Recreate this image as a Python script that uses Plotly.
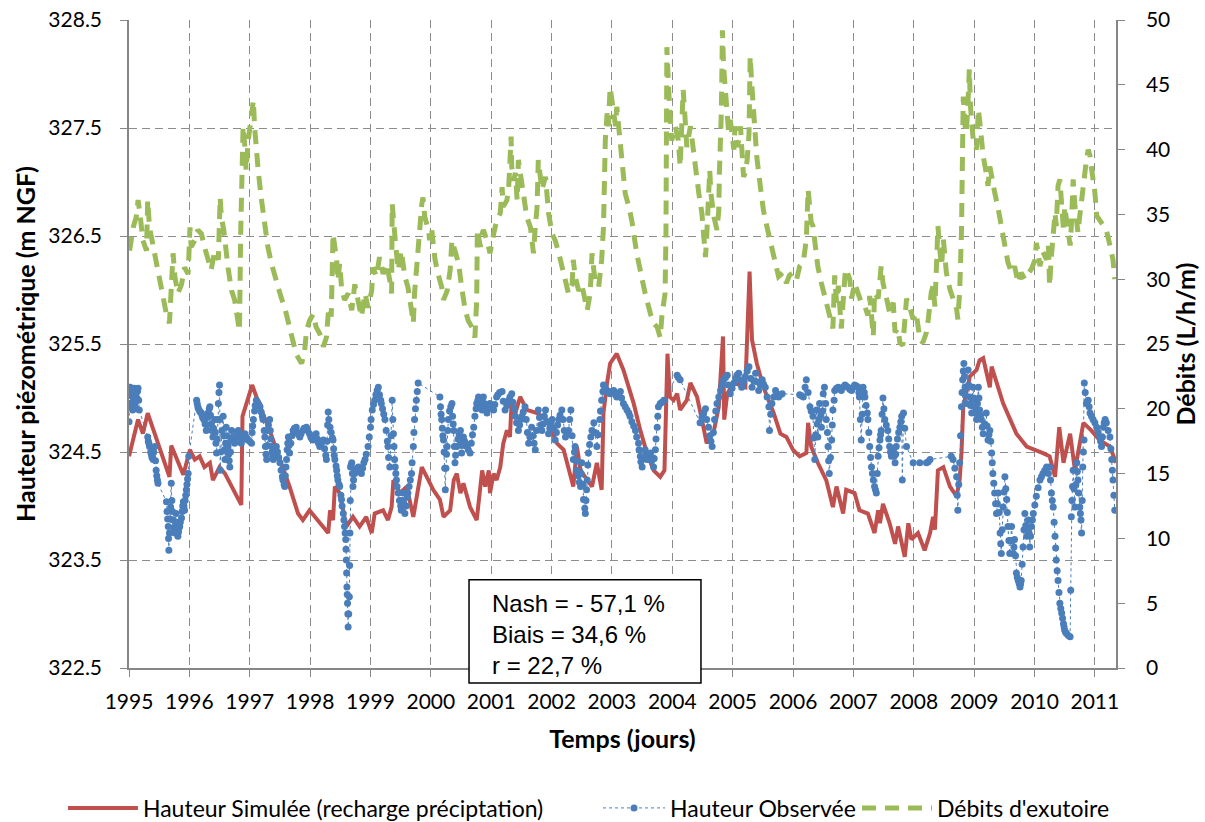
import plotly.graph_objects as go

# Hauteur simulée (m NGF), axe de gauche
sim_years = [
    1995.00, 1995.07, 1995.15, 1995.23, 1995.31, 1995.67, 1995.70, 1995.90, 1996.01, 1996.09,
    1996.17, 1996.25, 1996.34, 1996.39, 1996.50, 1996.59, 1996.86, 1996.88, 1996.94, 1997.04,
    1997.17, 1997.33, 1997.50, 1997.66, 1997.80, 1997.88, 1997.99, 1998.08, 1998.22, 1998.30,
    1998.33, 1998.38, 1998.41, 1998.49, 1998.60, 1998.71, 1998.82, 1998.93, 1999.02, 1999.07,
    1999.21, 1999.29, 1999.35, 1999.38, 1999.49, 1999.60, 1999.71, 1999.85, 1999.96, 2000.04,
    2000.15, 2000.21, 2000.32, 2000.38, 2000.43, 2000.49, 2000.54, 2000.65, 2000.76, 2000.85,
    2000.90, 2000.96, 2000.98, 2001.04, 2001.09, 2001.15, 2001.20, 2001.26, 2001.31, 2001.34,
    2001.40, 2001.48, 2001.59, 2001.76, 2001.92, 2002.09, 2002.20, 2002.36, 2002.42, 2002.48,
    2002.67, 2002.75, 2002.83, 2002.86, 2002.92, 2002.97, 2003.08, 2003.19, 2003.36, 2003.47,
    2003.58, 2003.69, 2003.80, 2003.87, 2003.92, 2003.96, 2004.02, 2004.08, 2004.13, 2004.24,
    2004.30, 2004.41, 2004.49, 2004.57, 2004.69, 2004.77, 2004.84, 2004.86, 2004.91, 2005.02,
    2005.21, 2005.28, 2005.32, 2005.40, 2005.51, 2005.68, 2005.79, 2005.89, 2006.00, 2006.11,
    2006.22, 2006.25, 2006.30, 2006.41, 2006.55, 2006.66, 2006.72, 2006.83, 2006.88, 2007.02,
    2007.10, 2007.24, 2007.35, 2007.41, 2007.44, 2007.49, 2007.60, 2007.69, 2007.74, 2007.85,
    2007.91, 2007.96, 2008.07, 2008.18, 2008.27, 2008.32, 2008.35, 2008.40, 2008.49, 2008.60,
    2008.71, 2008.76, 2008.79, 2008.82, 2008.93, 2009.04, 2009.09, 2009.15, 2009.26, 2009.29,
    2009.48, 2009.59, 2009.70, 2009.87, 2010.03, 2010.14, 2010.25, 2010.34, 2010.41, 2010.48,
    2010.59, 2010.67, 2010.81, 2010.94, 2011.08, 2011.25, 2011.35,
]
sim_level = [
    324.46, 324.61, 324.80, 324.67, 324.86, 324.27, 324.56, 324.29, 324.52, 324.43,
    324.46, 324.36, 324.40, 324.24, 324.36, 324.30, 324.01, 324.83, 324.95, 325.12,
    324.92, 324.70, 324.43, 324.18, 323.93, 323.87, 323.96, 323.90, 323.81, 323.75,
    323.96, 323.87, 324.18, 324.12, 323.81, 323.90, 323.81, 323.90, 323.75, 323.93,
    323.96, 323.87, 323.99, 324.24, 324.12, 324.18, 323.90, 324.36, 324.24, 324.15,
    324.06, 323.90, 323.96, 324.24, 324.30, 324.12, 324.21, 323.99, 323.87, 324.33,
    324.18, 324.33, 324.12, 324.30, 324.24, 324.36, 324.58, 324.70, 324.64, 324.98,
    324.86, 325.01, 324.89, 324.86, 324.80, 324.58, 324.52, 324.18, 324.55, 324.33,
    324.18, 324.40, 324.15, 324.86, 325.14, 325.32, 325.41, 325.26, 324.95, 324.70,
    324.49, 324.33, 324.27, 324.33, 325.41, 325.01, 324.98, 325.04, 324.89, 324.98,
    325.14, 325.01, 324.80, 324.58, 324.70, 324.92, 325.57, 324.80, 325.04, 325.14,
    325.10, 326.17, 325.54, 325.32, 325.10, 324.86, 324.67, 324.64, 324.52, 324.46,
    324.49, 324.77, 324.55, 324.40, 324.24, 323.99, 324.18, 323.93, 324.15, 324.12,
    323.96, 323.93, 323.75, 323.96, 323.84, 324.02, 323.84, 323.65, 323.81, 323.53,
    323.84, 323.69, 323.75, 323.59, 323.75, 323.90, 323.78, 324.33, 324.36, 324.18,
    324.09, 324.24, 324.49, 324.92, 325.20, 325.26, 325.35, 325.37, 325.10, 325.29,
    324.95, 324.80, 324.67, 324.55, 324.52, 324.49, 324.46, 324.27, 324.73, 324.40,
    324.67, 324.33, 324.77, 324.70, 324.61, 324.55, 324.40,
]

# Hauteur observée (m NGF), axe de gauche -- une ligne de dates = une ligne de niveaux
obs_years = [
    1995.00, 1995.005, 1995.01, 1995.02, 1995.03, 1995.04, 1995.05, 1995.06, 1995.07, 1995.08,
    1995.09, 1995.10, 1995.11, 1995.12, 1995.13, 1995.14, 1995.15, 1995.16, 1995.17,
    1995.31, 1995.32, 1995.33, 1995.34, 1995.36, 1995.37, 1995.38, 1995.40, 1995.41, 1995.43,
    1995.44, 1995.45, 1995.46, 1995.47, 1995.48,
    1995.62, 1995.63, 1995.64, 1995.65, 1995.655, 1995.66, 1995.67, 1995.68, 1995.69, 1995.70,
    1995.71, 1995.72, 1995.73, 1995.74, 1995.75, 1995.76, 1995.77, 1995.78, 1995.79, 1995.80,
    1995.81, 1995.82, 1995.83, 1995.84, 1995.85, 1995.87, 1995.88, 1995.89, 1995.90, 1995.91,
    1995.92, 1995.93, 1995.94, 1995.95, 1995.96, 1995.97, 1995.98, 1995.99,
    1996.12, 1996.13, 1996.14, 1996.15, 1996.17, 1996.18, 1996.20, 1996.21, 1996.22, 1996.24,
    1996.25, 1996.26, 1996.28, 1996.29, 1996.30, 1996.31, 1996.33, 1996.34, 1996.35, 1996.36,
    1996.37, 1996.39, 1996.40, 1996.42, 1996.43, 1996.44, 1996.45, 1996.46, 1996.47, 1996.48,
    1996.49, 1996.50, 1996.505, 1996.51, 1996.52, 1996.54, 1996.56, 1996.57, 1996.58, 1996.59,
    1996.60, 1996.61, 1996.62, 1996.63, 1996.64, 1996.65, 1996.66, 1996.67, 1996.68, 1996.69,
    1996.70, 1996.72, 1996.74, 1996.75, 1996.77, 1996.79, 1996.81, 1996.83, 1996.85, 1996.86,
    1996.88, 1996.90, 1996.92, 1996.94, 1996.96, 1996.97, 1997.00, 1997.03, 1997.04, 1997.05,
    1997.06, 1997.08, 1997.09, 1997.11, 1997.13, 1997.15, 1997.17, 1997.19, 1997.21, 1997.22,
    1997.24, 1997.25, 1997.26, 1997.27, 1997.28, 1997.29, 1997.30, 1997.31, 1997.33, 1997.34,
    1997.35, 1997.36, 1997.37, 1997.38, 1997.39, 1997.41, 1997.43, 1997.44, 1997.46, 1997.48,
    1997.50, 1997.52, 1997.54, 1997.55, 1997.57, 1997.58, 1997.59, 1997.60, 1997.61, 1997.62,
    1997.63, 1997.64, 1997.65, 1997.66, 1997.68, 1997.70, 1997.72, 1997.74, 1997.77, 1997.79,
    1997.81, 1997.83, 1997.85, 1997.88, 1997.90, 1997.94, 1997.96, 1997.99, 1998.01, 1998.03,
    1998.05, 1998.07, 1998.10, 1998.12, 1998.14, 1998.16, 1998.18, 1998.20, 1998.22, 1998.24,
    1998.26, 1998.27, 1998.28, 1998.29, 1998.30, 1998.31, 1998.33, 1998.35, 1998.37, 1998.38,
    1998.39, 1998.40, 1998.41, 1998.43, 1998.44, 1998.45, 1998.46, 1998.48, 1998.49, 1998.51,
    1998.52, 1998.53, 1998.55, 1998.56, 1998.57, 1998.58, 1998.59, 1998.595, 1998.60, 1998.605,
    1998.61, 1998.615, 1998.62, 1998.625, 1998.63, 1998.64, 1998.65, 1998.655, 1998.66, 1998.665,
    1998.67, 1998.68, 1998.69, 1998.70, 1998.71, 1998.72, 1998.74, 1998.76, 1998.78, 1998.80,
    1998.82, 1998.85, 1998.87, 1998.89, 1998.91, 1998.93, 1998.96, 1998.98, 1999.00, 1999.01,
    1999.03, 1999.05, 1999.07, 1999.09, 1999.11, 1999.13, 1999.15, 1999.17, 1999.18, 1999.20,
    1999.22, 1999.24, 1999.26, 1999.28, 1999.29, 1999.30, 1999.32, 1999.34, 1999.36, 1999.37,
    1999.38, 1999.39, 1999.40, 1999.41, 1999.42, 1999.43, 1999.44, 1999.46, 1999.48, 1999.50,
    1999.51, 1999.52, 1999.54, 1999.55, 1999.57, 1999.59, 1999.61, 1999.62, 1999.64, 1999.66,
    1999.68, 1999.69, 1999.71, 1999.72, 1999.73, 1999.745, 1999.76, 1999.775, 1999.79,
    2000.15, 2000.16, 2000.17, 2000.18, 2000.19, 2000.20, 2000.21, 2000.22, 2000.23, 2000.24,
    2000.25, 2000.26, 2000.27, 2000.28, 2000.29, 2000.31, 2000.33, 2000.35, 2000.36, 2000.37,
    2000.38, 2000.39, 2000.40, 2000.41, 2000.43, 2000.45, 2000.47, 2000.49, 2000.50, 2000.51,
    2000.52, 2000.54, 2000.56, 2000.58, 2000.60, 2000.62, 2000.65, 2000.67, 2000.69, 2000.71,
    2000.73, 2000.75, 2000.76, 2000.78, 2000.79, 2000.81, 2000.83, 2000.85, 2000.86, 2000.87,
    2000.89, 2000.91, 2000.93, 2000.95, 2000.98, 2001.00, 2001.02, 2001.04, 2001.06, 2001.09,
    2001.11, 2001.14, 2001.18, 2001.20, 2001.23, 2001.26, 2001.29, 2001.31, 2001.34, 2001.36,
    2001.38, 2001.40, 2001.42, 2001.45, 2001.47, 2001.49, 2001.51, 2001.53, 2001.56, 2001.58,
    2001.60, 2001.62, 2001.64, 2001.67, 2001.69, 2001.71, 2001.73, 2001.75, 2001.78, 2001.80,
    2001.82, 2001.84, 2001.86, 2001.88, 2001.90, 2001.92, 2001.95, 2001.97, 2001.99, 2002.01,
    2002.03, 2002.06, 2002.08, 2002.10, 2002.12, 2002.14, 2002.17, 2002.19, 2002.21, 2002.23,
    2002.26, 2002.28, 2002.30, 2002.32, 2002.34, 2002.36, 2002.38, 2002.39, 2002.41, 2002.42,
    2002.44, 2002.46, 2002.48, 2002.49, 2002.50, 2002.52, 2002.53, 2002.55, 2002.56, 2002.57,
    2002.58, 2002.59, 2002.60, 2002.61, 2002.63, 2002.65, 2002.67, 2002.70, 2002.72, 2002.75,
    2002.77, 2002.80, 2002.81, 2002.83, 2002.85, 2002.86, 2002.89, 2002.92, 2002.95, 2002.97,
    2003.00, 2003.03, 2003.06, 2003.08, 2003.11, 2003.14, 2003.16, 2003.19, 2003.22, 2003.25,
    2003.28, 2003.30, 2003.33, 2003.36, 2003.39, 2003.41, 2003.44, 2003.45, 2003.47, 2003.48,
    2003.50, 2003.52, 2003.55, 2003.56, 2003.58, 2003.61, 2003.64, 2003.66, 2003.69, 2003.70,
    2003.72, 2003.73, 2003.75, 2003.76, 2003.77, 2003.80, 2003.83, 2003.86,
    2004.08, 2004.10, 2004.13,
    2004.46, 2004.49, 2004.52, 2004.55, 2004.57, 2004.60, 2004.62, 2004.64, 2004.66, 2004.68,
    2004.70, 2004.72, 2004.74, 2004.77, 2004.80, 2004.82, 2004.85, 2004.88, 2004.91, 2004.93,
    2004.96, 2004.99, 2005.02, 2005.05, 2005.07, 2005.10, 2005.12, 2005.15, 2005.18, 2005.21,
    2005.24, 2005.27, 2005.30, 2005.32, 2005.35, 2005.38, 2005.40, 2005.43, 2005.46, 2005.49,
    2005.51, 2005.54, 2005.57, 2005.60, 2005.61, 2005.63, 2005.65, 2005.68, 2005.71, 2005.73,
    2005.76, 2005.79, 2005.82,
    2006.11, 2006.14, 2006.17, 2006.20, 2006.22, 2006.25, 2006.28, 2006.30, 2006.33, 2006.345,
    2006.36, 2006.375, 2006.39, 2006.40, 2006.41, 2006.43, 2006.44, 2006.46, 2006.47, 2006.49,
    2006.50, 2006.52, 2006.54, 2006.55, 2006.57, 2006.58, 2006.59, 2006.60, 2006.62, 2006.64,
    2006.65, 2006.66, 2006.68, 2006.69, 2006.72, 2006.75, 2006.78, 2006.80, 2006.83, 2006.86,
    2006.88, 2006.91, 2006.94, 2006.97, 2007.00, 2007.02, 2007.05, 2007.08, 2007.09, 2007.10,
    2007.115, 2007.13, 2007.145, 2007.16, 2007.18, 2007.19, 2007.21, 2007.23, 2007.24, 2007.255,
    2007.27, 2007.285, 2007.30, 2007.315, 2007.33, 2007.35, 2007.365, 2007.38, 2007.395, 2007.41,
    2007.425, 2007.44, 2007.45, 2007.46, 2007.475, 2007.49, 2007.505, 2007.52, 2007.545, 2007.57,
    2007.585, 2007.60, 2007.615, 2007.63, 2007.645, 2007.66, 2007.675, 2007.69, 2007.70, 2007.71,
    2007.73, 2007.75, 2007.77, 2007.785, 2007.80, 2007.81, 2007.83, 2007.85, 2007.88,
    2007.99, 2008.10, 2008.21, 2008.24, 2008.27,
    2008.62, 2008.65, 2008.68, 2008.71, 2008.72, 2008.73, 2008.745, 2008.76, 2008.775, 2008.79,
    2008.80, 2008.81, 2008.82, 2008.83, 2008.84, 2008.85, 2008.86, 2008.87, 2008.88, 2008.90,
    2008.91, 2008.93, 2008.94, 2008.96, 2008.97, 2008.98, 2008.995, 2009.01, 2009.025, 2009.04,
    2009.055, 2009.07, 2009.08, 2009.09, 2009.105, 2009.12, 2009.135, 2009.15, 2009.175, 2009.20,
    2009.215, 2009.23, 2009.245, 2009.26, 2009.275, 2009.29, 2009.30, 2009.31, 2009.325, 2009.34,
    2009.355, 2009.37, 2009.385, 2009.40, 2009.415, 2009.43, 2009.44, 2009.45, 2009.465, 2009.48,
    2009.495, 2009.51, 2009.525, 2009.54, 2009.55, 2009.56, 2009.575, 2009.59, 2009.605, 2009.62,
    2009.635, 2009.65, 2009.66, 2009.67, 2009.685, 2009.70, 2009.715, 2009.73, 2009.745, 2009.76,
    2009.77, 2009.78, 2009.795, 2009.81, 2009.825, 2009.84, 2009.855, 2009.87, 2009.885, 2009.90,
    2009.91, 2009.92, 2009.935, 2009.95, 2009.965, 2009.98, 2010.005, 2010.03, 2010.06, 2010.09,
    2010.115, 2010.14, 2010.17, 2010.20, 2010.23, 2010.25, 2010.265, 2010.28, 2010.295, 2010.31,
    2010.325, 2010.34, 2010.35, 2010.36, 2010.375, 2010.39, 2010.405, 2010.42, 2010.435, 2010.45,
    2010.465, 2010.48, 2010.49, 2010.50, 2010.515, 2010.53, 2010.56, 2010.59, 2010.60, 2010.61,
    2010.62, 2010.63, 2010.64, 2010.655, 2010.67, 2010.685, 2010.70, 2010.71, 2010.72, 2010.735,
    2010.75, 2010.76, 2010.77, 2010.78, 2010.79, 2010.80, 2010.81, 2010.82, 2010.825, 2010.84,
    2010.86, 2010.875, 2010.89, 2010.905, 2010.92, 2010.945, 2010.97, 2011.00, 2011.03, 2011.055,
    2011.08, 2011.095, 2011.11, 2011.125, 2011.14, 2011.155, 2011.17, 2011.19, 2011.22, 2011.25,
    2011.265, 2011.28, 2011.29, 2011.30, 2011.315, 2011.33,
]
obs_level = [
    324.78, 324.95, 325.05, 325.10, 324.92, 325.02, 325.08, 324.89, 324.97, 325.05,
    325.09, 324.95, 325.02, 324.90, 325.00, 325.06, 325.09, 324.98, 324.89,
    324.64, 324.60, 324.58, 324.55, 324.50, 324.48, 324.45, 324.43, 324.50, 324.55,
    324.42, 324.33, 324.28, 324.24, 324.21,
    324.04, 323.95, 323.88, 323.81, 323.70, 323.59, 323.75, 323.88, 323.99, 324.21,
    324.05, 323.95, 323.87, 323.80, 323.78, 323.75, 323.85, 323.93, 323.85, 323.78,
    323.72, 323.76, 323.80, 323.81, 323.85, 323.89, 323.95, 324.00, 324.04, 324.00,
    323.96, 324.05, 324.10, 324.15, 324.20, 324.25, 324.30, 324.46,
    324.98, 324.95, 324.92, 324.90, 324.88, 324.87, 324.86, 324.84, 324.82, 324.80,
    324.80, 324.76, 324.70, 324.75, 324.82, 324.86, 324.90, 324.92, 324.84, 324.76,
    324.70, 324.64, 324.72, 324.80, 324.68, 324.58, 324.49, 324.62, 324.80, 324.95,
    325.05, 325.12, 324.80, 324.33, 324.50, 324.70, 324.83, 324.65, 324.52, 324.43,
    324.58, 324.73, 324.65, 324.58, 324.55, 324.48, 324.42, 324.36, 324.50, 324.62,
    324.70, 324.64, 324.60, 324.58, 324.64, 324.68, 324.70, 324.64, 324.60, 324.58,
    324.62, 324.65, 324.67, 324.64, 324.62, 324.61, 324.60, 324.58, 324.68, 324.74,
    324.80, 324.88, 324.93, 324.98, 324.96, 324.94, 324.92, 324.87, 324.83, 324.80,
    324.70, 324.64, 324.55, 324.48, 324.43, 324.56, 324.70, 324.75, 324.80, 324.70,
    324.62, 324.55, 324.50, 324.46, 324.43, 324.48, 324.53, 324.55, 324.50, 324.45,
    324.40, 324.33, 324.27, 324.24, 324.20, 324.18, 324.28, 324.36, 324.43, 324.52,
    324.58, 324.64, 324.56, 324.49, 324.58, 324.65, 324.70, 324.72, 324.73, 324.68,
    324.66, 324.64, 324.67, 324.70, 324.72, 324.73, 324.70, 324.67, 324.64, 324.62,
    324.61, 324.64, 324.67, 324.62, 324.58, 324.55, 324.58, 324.60, 324.61, 324.53,
    324.47, 324.43, 324.60, 324.75, 324.87, 324.80, 324.73, 324.68, 324.63, 324.61,
    324.53, 324.47, 324.43, 324.37, 324.33, 324.28, 324.24, 324.20, 324.18, 324.10,
    324.06, 324.00, 323.93, 323.87, 323.81, 323.75, 323.69, 323.60, 323.50, 323.38,
    323.25, 323.18, 323.10, 323.00, 322.88, 323.00, 323.16, 323.45, 323.75, 324.05,
    324.36, 324.38, 324.40, 324.30, 324.18, 324.24, 324.30, 324.33, 324.35, 324.36,
    324.33, 324.30, 324.35, 324.40, 324.43, 324.48, 324.55, 324.64, 324.73, 324.80,
    324.89, 324.94, 324.98, 325.03, 325.07, 325.10, 325.03, 324.98, 324.95, 324.90,
    324.85, 324.80, 324.70, 324.60, 324.55, 324.45, 324.36, 324.65, 324.98, 324.80,
    324.67, 324.55, 324.43, 324.36, 324.30, 324.24, 324.18, 324.12, 324.05, 324.00,
    323.96, 324.05, 324.12, 324.03, 323.93, 324.00, 324.08, 324.12, 324.18, 324.24,
    324.30, 324.40, 324.55, 324.68, 324.80, 324.90, 324.98, 325.06, 325.14,
    325.01, 324.92, 324.85, 324.80, 324.72, 324.65, 324.61, 324.50, 324.35, 324.15,
    324.35, 324.48, 324.55, 324.70, 324.80, 324.88, 324.92, 324.95, 324.83, 324.76,
    324.70, 324.55, 324.40, 324.47, 324.55, 324.62, 324.66, 324.70, 324.60, 324.49,
    324.56, 324.64, 324.60, 324.57, 324.55, 324.52, 324.49, 324.58, 324.66, 324.73,
    324.83, 324.90, 324.95, 324.98, 325.01, 324.96, 324.92, 324.89, 324.95, 325.01,
    324.95, 324.90, 324.86, 324.90, 324.95, 324.92, 324.90, 324.89, 324.94, 325.01,
    325.03, 325.05, 325.06, 324.97, 324.89, 324.93, 324.98, 325.01, 325.04, 324.96,
    324.90, 324.83, 324.77, 324.70, 324.75, 324.80, 324.83, 324.87, 324.92, 324.80,
    324.68, 324.58, 324.64, 324.73, 324.65, 324.58, 324.52, 324.70, 324.89, 324.82,
    324.75, 324.70, 324.76, 324.83, 324.89, 324.78, 324.67, 324.72, 324.77, 324.80,
    324.72, 324.61, 324.68, 324.75, 324.80, 324.84, 324.89, 324.80, 324.70, 324.64,
    324.67, 324.70, 324.80, 324.89, 324.65, 324.43, 324.50, 324.55, 324.42, 324.33,
    324.28, 324.22, 324.18, 324.30, 324.40, 324.20, 324.06, 323.98, 323.93, 324.05,
    324.15, 324.24, 324.38, 324.49, 324.57, 324.64, 324.70, 324.77, 324.68, 324.55,
    324.66, 324.80, 324.88, 324.98, 325.06, 325.12, 325.09, 325.07, 325.05, 325.04,
    325.06, 325.07, 325.03, 325.01, 325.04, 325.06, 325.00, 324.95, 324.92, 324.89,
    324.86, 324.83, 324.78, 324.74, 324.70, 324.64, 324.58, 324.52, 324.46, 324.41,
    324.36, 324.44, 324.52, 324.47, 324.43, 324.46, 324.49, 324.42, 324.36, 324.44,
    324.52, 324.62, 324.73, 324.83, 324.92, 324.95, 324.96, 324.98,
    325.21, 325.19, 325.17,
    324.77, 324.82, 324.86, 324.90, 324.80, 324.73, 324.65, 324.60, 324.55, 324.68,
    324.80, 324.88, 324.95, 325.01, 325.07, 325.12, 325.17, 325.19, 325.21, 325.12,
    325.04, 325.09, 325.14, 325.18, 325.21, 325.23, 325.17, 325.10, 325.15, 325.20,
    325.25, 325.29, 325.18, 325.10, 325.16, 325.23, 325.15, 325.07, 325.12, 325.17,
    325.13, 325.10, 325.01, 324.92, 324.70, 324.85, 324.95, 325.01, 325.07, 325.04,
    325.01, 325.03, 325.04,
    325.03, 325.02, 325.01, 325.10, 325.17, 325.05, 324.92, 324.88, 324.83, 324.63,
    324.43, 324.66, 324.89, 324.76, 324.64, 324.80, 324.95, 324.84, 324.73, 324.88,
    325.04, 325.10, 324.95, 324.80, 324.68, 324.55, 324.42, 324.30, 324.45, 324.61,
    324.75, 324.89, 324.98, 325.07, 325.09, 325.10, 325.08, 325.07, 325.10, 325.12,
    325.11, 325.10, 325.08, 325.07, 325.10, 325.12, 325.11, 325.10, 325.05, 325.01,
    324.80, 324.61, 324.85, 325.10, 325.05, 325.01, 324.93, 324.86, 324.80, 324.68,
    324.55, 324.45, 324.36, 324.30, 324.24, 324.18, 324.15, 324.12, 324.30, 324.46,
    324.54, 324.61, 324.66, 324.70, 324.85, 325.00, 324.90, 324.80, 324.75, 324.70,
    324.62, 324.55, 324.50, 324.46, 324.49, 324.52, 324.46, 324.40, 324.48, 324.55,
    324.62, 324.68, 324.73, 324.78, 324.83, 324.24, 324.86, 324.72, 324.55,
    324.40, 324.40, 324.40, 324.41, 324.43,
    324.46, 324.43, 324.35, 324.27, 324.10, 323.96, 324.20, 324.40, 324.65, 324.92,
    325.05, 325.17, 325.25, 325.32, 325.20, 325.10, 325.02, 324.95, 325.10, 325.26,
    325.12, 325.01, 324.93, 324.86, 324.98, 325.10, 325.00, 324.92, 324.86, 324.80,
    324.95, 325.10, 325.00, 324.89, 324.84, 324.80, 324.73, 324.67, 324.76, 324.86,
    324.74, 324.61, 324.66, 324.70, 324.60, 324.49, 324.40, 324.30, 324.21, 324.12,
    324.02, 323.93, 324.02, 324.12, 323.94, 323.75, 323.65, 323.56, 323.78, 323.99,
    324.13, 324.27, 324.16, 324.06, 323.94, 323.81, 323.68, 323.56, 323.68, 323.81,
    323.68, 323.56, 323.62, 323.69, 323.54, 323.38, 323.34, 323.31, 323.28, 323.25,
    323.28, 323.31, 323.46, 323.62, 323.78, 323.93, 323.82, 323.72, 323.80, 323.87,
    323.75, 323.62, 323.72, 323.81, 323.87, 323.93, 324.01, 324.09, 324.17, 324.24,
    324.27, 324.30, 324.33, 324.36, 324.30, 324.36, 324.24, 324.12, 324.05, 323.99,
    323.85, 323.72, 323.61, 323.50, 323.40, 323.31, 323.20, 323.10, 323.05, 323.01,
    322.96, 322.91, 322.88, 322.85, 322.83, 322.82, 322.80, 322.79, 323.22, 323.90,
    324.05, 324.18, 324.33, 324.16, 323.99, 324.20, 324.40, 324.32, 324.24, 324.12,
    323.99, 323.93, 323.87, 323.75, 324.05, 324.36, 324.50, 324.61, 325.14, 325.05,
    324.95, 324.97, 324.98, 324.92, 324.86, 324.83, 324.80, 324.77, 324.73, 324.68,
    324.64, 324.60, 324.55, 324.64, 324.73, 324.77, 324.80, 324.77, 324.70, 324.64,
    324.53, 324.43, 324.33, 324.24, 324.10, 323.96,
]

# Débits d'exutoire (L/h/m), axe de droite
flow_years = [
    1995.01, 1995.07, 1995.12, 1995.15, 1995.18, 1995.23, 1995.29, 1995.31, 1995.34, 1995.40,
    1995.45, 1995.51, 1995.56, 1995.62, 1995.67, 1995.70, 1995.73, 1995.76, 1995.81, 1995.87,
    1995.92, 1995.98, 1996.01, 1996.03, 1996.09, 1996.14, 1996.20, 1996.25, 1996.31, 1996.36,
    1996.42, 1996.48, 1996.51, 1996.53, 1996.57, 1996.61, 1996.64, 1996.70, 1996.75, 1996.81,
    1996.83, 1996.85, 1996.86, 1996.87, 1996.89, 1996.92, 1996.94, 1996.97, 1997.00, 1997.03,
    1997.06, 1997.08, 1997.11, 1997.14, 1997.19, 1997.25, 1997.30, 1997.36, 1997.41, 1997.47,
    1997.52, 1997.58, 1997.66, 1997.72, 1997.77, 1997.86, 1997.91, 1997.94, 1997.99, 1998.05,
    1998.10, 1998.16, 1998.22, 1998.27, 1998.30, 1998.33, 1998.35, 1998.38, 1998.41, 1998.44,
    1998.46, 1998.49, 1998.52, 1998.57, 1998.63, 1998.69, 1998.74, 1998.80, 1998.85, 1998.91,
    1998.96, 1999.02, 1999.04, 1999.10, 1999.15, 1999.21, 1999.27, 1999.32, 1999.35, 1999.36,
    1999.39, 1999.42, 1999.46, 1999.51, 1999.57, 1999.62, 1999.68, 1999.71, 1999.73, 1999.79,
    1999.82, 1999.85, 1999.87, 1999.90, 1999.96, 1999.98, 2000.01, 2000.07, 2000.12, 2000.18,
    2000.21, 2000.27, 2000.32, 2000.35, 2000.40, 2000.46, 2000.51, 2000.57, 2000.62, 2000.68,
    2000.73, 2000.76, 2000.77, 2000.82, 2000.85, 2000.87, 2000.93, 2000.98, 2001.04, 2001.09,
    2001.15, 2001.18, 2001.20, 2001.26, 2001.29, 2001.31, 2001.33, 2001.34, 2001.37, 2001.40,
    2001.43, 2001.45, 2001.48, 2001.51, 2001.54, 2001.59, 2001.65, 2001.70, 2001.73, 2001.76,
    2001.78, 2001.81, 2001.84, 2001.90, 2001.92, 2001.95, 2002.01, 2002.06, 2002.12, 2002.17,
    2002.23, 2002.28, 2002.34, 2002.36, 2002.39, 2002.45, 2002.50, 2002.53, 2002.59, 2002.64,
    2002.67, 2002.70, 2002.72, 2002.78, 2002.83, 2002.86, 2002.87, 2002.89, 2002.92, 2002.94,
    2002.97, 2003.00, 2003.03, 2003.06, 2003.08, 2003.14, 2003.17, 2003.22, 2003.28, 2003.33,
    2003.41, 2003.50, 2003.55, 2003.64, 2003.69, 2003.75, 2003.80, 2003.83, 2003.86, 2003.88,
    2003.895, 2003.90, 2003.905, 2003.91, 2003.94, 2003.97, 2003.99, 2004.05, 2004.10, 2004.13,
    2004.16, 2004.18, 2004.22, 2004.24, 2004.30, 2004.33, 2004.38, 2004.44, 2004.49, 2004.52,
    2004.55, 2004.57, 2004.62, 2004.64, 2004.66, 2004.69, 2004.74, 2004.77, 2004.78, 2004.80,
    2004.81, 2004.82, 2004.83, 2004.85, 2004.88, 2004.91, 2004.93, 2004.96, 2004.99, 2005.02,
    2005.04, 2005.07, 2005.10, 2005.13, 2005.15, 2005.18, 2005.21, 2005.24, 2005.27, 2005.28,
    2005.29, 2005.32, 2005.35, 2005.38, 2005.40, 2005.46, 2005.51, 2005.57, 2005.62, 2005.71,
    2005.76, 2005.83, 2005.89, 2005.94, 2006.00, 2006.06, 2006.11, 2006.17, 2006.22, 2006.25,
    2006.28, 2006.30, 2006.33, 2006.36, 2006.41, 2006.47, 2006.52, 2006.61, 2006.66, 2006.69,
    2006.72, 2006.75, 2006.80, 2006.86, 2006.88, 2006.94, 2006.97, 2007.02, 2007.08, 2007.13,
    2007.19, 2007.24, 2007.27, 2007.33, 2007.35, 2007.41, 2007.46, 2007.49, 2007.55, 2007.60,
    2007.66, 2007.69, 2007.74, 2007.77, 2007.82, 2007.88, 2007.93, 2007.99, 2008.04, 2008.10,
    2008.15, 2008.21, 2008.24, 2008.27, 2008.29, 2008.32, 2008.35, 2008.38, 2008.40, 2008.43,
    2008.46, 2008.49, 2008.51, 2008.54, 2008.60, 2008.65, 2008.71, 2008.73, 2008.76, 2008.79,
    2008.80, 2008.81, 2008.82, 2008.85, 2008.87, 2008.90, 2008.92, 2008.94, 2008.98, 2009.04,
    2009.07, 2009.09, 2009.12, 2009.15, 2009.20, 2009.23, 2009.26, 2009.31, 2009.34, 2009.40,
    2009.45, 2009.51, 2009.56, 2009.62, 2009.67, 2009.73, 2009.78, 2009.84, 2009.90, 2009.95,
    2010.01, 2010.03, 2010.06, 2010.09, 2010.14, 2010.20, 2010.23, 2010.25, 2010.28, 2010.31,
    2010.34, 2010.36, 2010.39, 2010.42, 2010.45, 2010.48, 2010.50, 2010.53, 2010.56, 2010.59,
    2010.61, 2010.64, 2010.67, 2010.70, 2010.72, 2010.75, 2010.78, 2010.81, 2010.83, 2010.86,
    2010.89, 2010.92, 2010.94, 2010.97, 2011.00, 2011.03, 2011.08, 2011.14, 2011.19, 2011.25,
    2011.30, 2011.33,
]
flow_values = [
    32.2, 34.0, 34.8, 36.1, 35.1, 33.0, 32.2, 36.1, 34.0, 32.5,
    31.5, 30.2, 28.9, 27.3, 26.6, 30.2, 32.0, 30.2, 28.9, 29.6,
    30.9, 30.4, 34.0, 32.5, 33.0, 33.8, 33.5, 32.5, 31.5, 30.7,
    32.2, 31.5, 36.3, 34.8, 33.8, 31.7, 30.9, 29.1, 28.4, 26.6,
    26.0, 33.5, 37.1, 39.2, 41.8, 40.2, 38.4, 40.5, 41.8, 42.8,
    43.8, 41.8, 39.7, 38.4, 36.3, 34.0, 32.5, 31.2, 30.2, 29.4,
    28.6, 27.8, 26.3, 25.3, 24.2, 23.5, 24.5, 26.0, 26.8, 27.3,
    26.3, 25.8, 24.8, 25.5, 27.3, 27.8, 27.1, 33.5, 32.5, 31.5,
    29.9, 31.2, 29.4, 28.4, 28.9, 27.6, 29.6, 28.4, 27.1, 28.9,
    27.8, 29.1, 30.9, 30.2, 31.7, 30.4, 31.2, 29.9, 28.9, 35.8,
    33.5, 32.5, 30.7, 32.2, 30.2, 29.4, 27.6, 26.6, 28.9, 33.0,
    34.0, 35.8, 36.3, 34.8, 33.8, 33.0, 34.0, 31.5, 30.4, 29.4,
    28.4, 29.1, 30.7, 33.0, 32.2, 31.2, 29.4, 27.6, 26.8, 26.3,
    25.5, 28.4, 33.8, 32.5, 33.5, 33.8, 33.0, 32.0, 33.5, 34.5,
    35.1, 37.1, 35.6, 36.1, 37.1, 40.2, 41.0, 38.7, 37.6, 38.2,
    36.1, 39.2, 38.2, 37.1, 36.3, 34.8, 34.0, 32.0, 34.0, 35.6,
    39.2, 37.6, 36.9, 37.9, 36.1, 35.1, 33.5, 33.0, 32.0, 30.9,
    29.6, 28.9, 29.6, 31.5, 30.2, 29.1, 29.6, 28.9, 27.6, 28.9,
    32.0, 30.7, 29.9, 29.4, 31.5, 34.0, 38.2, 40.7, 42.8, 41.8,
    44.8, 43.8, 42.8, 41.8, 43.3, 40.7, 39.2, 36.6, 35.6, 34.5,
    32.0, 29.9, 28.9, 27.3, 26.6, 26.3, 25.5, 27.3, 28.4, 28.9,
    33.5, 39.2, 44.8, 47.9, 44.6, 42.3, 40.7, 41.8, 40.7, 38.7,
    41.8, 44.6, 41.8, 40.2, 41.8, 40.5, 38.9, 36.6, 35.1, 33.5,
    31.7, 33.3, 38.4, 36.6, 35.6, 34.8, 33.8, 35.3, 38.2, 40.2,
    42.5, 45.4, 49.2, 46.4, 44.1, 43.0, 41.5, 42.3, 40.7, 40.0,
    41.8, 40.2, 40.7, 41.8, 40.2, 37.9, 38.2, 39.2, 41.2, 45.1,
    47.2, 44.8, 42.5, 40.7, 39.4, 37.1, 35.3, 34.0, 33.0, 30.9,
    30.2, 30.5, 29.7, 30.3, 30.5, 30.0, 31.0, 31.3, 33.1, 36.9,
    35.1, 34.4, 34.1, 32.6, 31.0, 29.7, 28.7, 26.9, 26.2, 30.3,
    28.2, 29.5, 26.2, 30.3, 30.8, 30.0, 28.5, 29.7, 29.0, 28.2,
    27.9, 27.2, 28.7, 25.6, 29.0, 28.5, 31.0, 29.7, 28.5, 27.4,
    28.2, 25.9, 26.2, 25.1, 24.9, 28.5, 27.9, 26.9, 27.4, 25.4,
    25.1, 25.9, 26.9, 28.5, 29.0, 29.5, 27.9, 31.5, 34.1, 32.3,
    31.0, 33.1, 31.5, 30.5, 29.2, 28.5, 27.7, 26.9, 29.0, 33.6,
    39.0, 41.5, 44.1, 41.8, 41.3, 43.8, 46.2, 43.3, 41.0, 40.0,
    43.1, 42.3, 40.8, 39.5, 38.2, 37.2, 38.7, 37.7, 36.7, 35.4,
    34.1, 32.6, 31.3, 30.5, 31.0, 29.7, 30.5, 30.0, 30.5, 30.8,
    31.5, 32.8, 32.1, 31.0, 32.1, 31.5, 32.6, 29.5, 31.8, 33.6,
    35.1, 34.1, 37.2, 37.7, 35.1, 33.8, 35.6, 34.6, 33.6, 32.6,
    34.1, 37.7, 35.6, 34.1, 33.6, 34.9, 36.2, 37.2, 38.5, 39.2,
    40.0, 39.5, 38.7, 37.7, 36.7, 34.9, 34.6, 34.1, 33.8, 32.6,
    31.5, 30.0,
]

assert len(sim_years) == len(sim_level)
assert len(obs_years) == len(obs_level), (len(obs_years), len(obs_level))
assert len(flow_years) == len(flow_values)

year_ticks = list(range(1995, 2012))
level_ticks = [322.5, 323.5, 324.5, 325.5, 326.5, 327.5, 328.5]
flow_ticks = list(range(0, 55, 5))

stats_text = "Nash = - 57,1 %<br>Biais = 34,6 %<br>r = 22,7 %"

RED = "#C0504D"
BLUE = "#4A7EBB"
GREEN = "#9BBB59"
GRID = "#8C8C8C"
AXIS = "#868686"
FONT = "Lato"

fig = go.Figure()

fig.add_trace(
    go.Scatter(
        x=sim_years,
        y=sim_level,
        mode="lines",
        name="Hauteur Simulée (recharge préciptation)",
        line={"color": RED, "width": 4},
        legend="legend",
    )
)
fig.add_trace(
    go.Scatter(
        x=obs_years,
        y=obs_level,
        mode="lines+markers",
        name="Hauteur Observée",
        line={"color": BLUE, "width": 1, "dash": "dot"},
        marker={"color": BLUE, "size": 7},
        legend="legend2",
    )
)
fig.add_trace(
    go.Scatter(
        x=flow_years,
        y=flow_values,
        mode="lines",
        name="Débits d'exutoire",
        yaxis="y2",
        line={"color": GREEN, "width": 5, "dash": "14px,9px"},
        legend="legend3",
    )
)

# encadré des critères
fig.add_shape(
    type="rect",
    xref="paper",
    yref="paper",
    x0=0.3445,
    x1=0.5795,
    y0=-0.023,
    y1=0.136,
    line={"color": "black", "width": 1.5},
    fillcolor="white",
    layer="above",
)
fig.add_annotation(
    xref="paper",
    yref="paper",
    x=0.366,
    y=0.051,
    xanchor="left",
    yanchor="middle",
    text=stats_text,
    align="left",
    showarrow=False,
    font={"family": "Liberation Sans, Arial", "size": 24, "color": "black"},
)

axis_common = {
    "showline": True,
    "linecolor": AXIS,
    "linewidth": 1.5,
    "ticks": "outside",
    "ticklen": 7,
    "tickcolor": AXIS,
    "tickfont": {"family": FONT, "size": 21, "color": "black"},
    "ticklabeloverflow": "allow",
    "zeroline": False,
    "automargin": False,
}

legend_common = {
    "orientation": "h",
    "y": -0.216,
    "xanchor": "left",
    "yanchor": "middle",
    "font": {"family": FONT, "size": 23},
    "bgcolor": "rgba(0,0,0,0)",
}

fig.update_layout(
    width=1205,
    height=822,
    paper_bgcolor="white",
    plot_bgcolor="white",
    margin={"l": 129, "r": 89, "t": 20, "b": 154, "autoexpand": False},
    font={"family": FONT, "size": 21, "color": "black"},
    xaxis={
        **axis_common,
        "range": [1995, 2011.35],
        "tickvals": year_ticks,
        "showgrid": True,
        "gridcolor": GRID,
        "gridwidth": 1.3,
        "griddash": "8px,5px",
        "ticklabelstandoff": 7,
        "title": {
            "text": "Temps (jours)",
            "font": {"family": FONT, "size": 25, "weight": "bold"},
            "standoff": 19,
        },
    },
    yaxis={
        **axis_common,
        "range": [322.5, 328.5],
        "tickvals": level_ticks,
        "tickformat": ".1f",
        "showgrid": True,
        "gridcolor": GRID,
        "gridwidth": 1.3,
        "griddash": "8px,5px",
        "ticklabelstandoff": 14,
        "title": {
            "text": "Hauteur piézométrique (m NGF)",
            "font": {"family": FONT, "size": 25, "weight": "bold"},
            "standoff": 6,
        },
    },
    yaxis2={
        **axis_common,
        "range": [0, 50],
        "tickvals": flow_ticks,
        "overlaying": "y",
        "side": "right",
        "showgrid": False,
        "ticklabelstandoff": 17,
        "title": {
            "text": "Débits (L/h/m)",
            "font": {"family": FONT, "size": 25, "weight": "bold"},
            "standoff": 6,
        },
    },
    legend={**legend_common, "x": -0.0669, "itemwidth": 70},
    legend2={**legend_common, "x": 0.4752, "itemwidth": 62},
    legend3={**legend_common, "x": 0.7376, "itemwidth": 70},
    showlegend=True,
)

# sans marge de page, la figure occupe exactement la fenêtre
fig.write_html(
    "out.html",
    config={"displayModeBar": False},
    post_script="document.body.style.margin = '0px';",
)
